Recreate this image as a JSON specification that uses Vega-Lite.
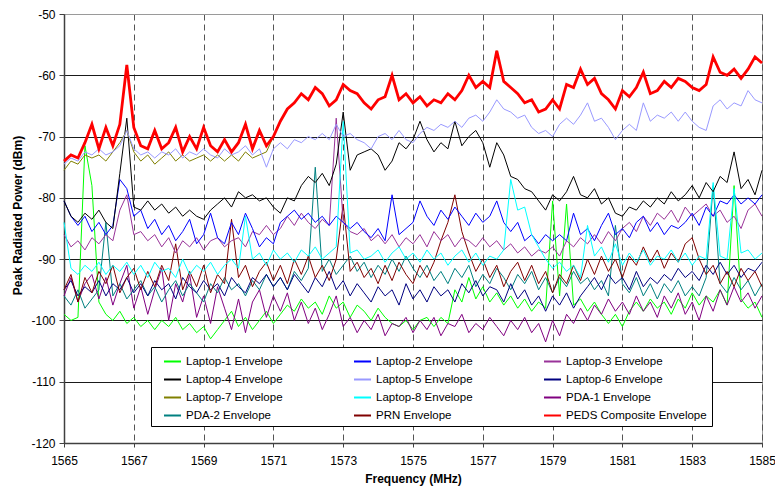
{
"$schema":"https://vega.github.io/schema/vega-lite/v6.json",
"autosize":{"type":"none"},
"padding":{"left":64,"top":14,"right":13,"bottom":46},
"width":698,"height":429,
"background":"white",
"config":{"font":"Liberation Sans","view":{"stroke":"#9a9a9a","strokeWidth":1},
"axis":{"labelFont":"Liberation Sans","labelFontSize":12,"labelColor":"#000","titleFont":"Liberation Sans","titleFontSize":12,"titleFontWeight":"bold","titleColor":"#000","domainColor":"#404040","domainWidth":1.5,"tickColor":"#404040","tickWidth":1}},
"data":{"values":[
{"f":1565.0,"a":-99,"b":-80.5,"c":-86,"d":-80.5,"e":-74.5,"g":-95,"h":-75.5,"i":-84,"j":-96,"k":-96,"l":-95,"m":-74},
{"f":1565.2,"a":-100,"b":-83,"c":-88,"d":-83,"e":-73.5,"g":-93.5,"h":-74,"i":-91.5,"j":-93,"k":-97.5,"l":-92.5,"m":-73},
{"f":1565.4,"a":-99.5,"b":-84.5,"c":-87,"d":-84,"e":-74,"g":-96,"h":-74.5,"i":-92.5,"j":-97,"k":-95,"l":-97,"m":-73.5},
{"f":1565.6,"a":-71.5,"b":-83,"c":-88.5,"d":-82.5,"e":-72.5,"g":-94.5,"h":-73,"i":-91,"j":-94,"k":-98,"l":-93,"m":-71},
{"f":1565.8,"a":-78,"b":-85.5,"c":-86.5,"d":-83.5,"e":-73,"g":-95.5,"h":-73.5,"i":-92,"j":-92.5,"k":-96.5,"l":-95.5,"m":-68},
{"f":1566.0,"a":-97,"b":-84,"c":-87.5,"d":-82,"e":-72,"g":-93.5,"h":-73,"i":-90.5,"j":-96.5,"k":-95,"l":-92,"m":-72},
{"f":1566.2,"a":-99,"b":-86,"c":-86,"d":-84,"e":-73,"g":-96,"h":-74,"i":-92.5,"j":-93,"k":-84,"l":-94,"m":-68.5},
{"f":1566.4,"a":-100,"b":-84.5,"c":-87,"d":-85,"e":-72.5,"g":-94,"h":-72.5,"i":-91,"j":-97.5,"k":-96,"l":-91,"m":-71.5},
{"f":1566.6,"a":-98.5,"b":-77,"c":-82,"d":-76,"e":-71.5,"g":-95,"h":-71,"i":-92,"j":-94,"k":-94,"l":-95.5,"m":-68},
{"f":1566.8,"a":-100.5,"b":-78.5,"c":-79.5,"d":-67,"e":-69,"g":-93,"h":-69,"i":-90.5,"j":-91,"k":-96.5,"l":-93,"m":-58.3},
{"f":1567.0,"a":-99.5,"b":-83,"c":-86,"d":-81.5,"e":-72,"g":-95.5,"h":-72.5,"i":-92.5,"j":-98,"k":-95,"l":-91.5,"m":-68.5},
{"f":1567.2,"a":-101,"b":-82,"c":-85.5,"d":-82,"e":-73,"g":-94,"h":-74,"i":-91,"j":-94.5,"k":-93.5,"l":-95,"m":-71.5},
{"f":1567.4,"a":-100,"b":-85,"c":-87,"d":-80.5,"e":-72.5,"g":-96,"h":-73,"i":-93,"j":-99,"k":-96,"l":-92,"m":-72},
{"f":1567.6,"a":-101.5,"b":-83.5,"c":-86,"d":-82,"e":-73.5,"g":-93.5,"h":-74.5,"i":-90.5,"j":-95,"k":-94.5,"l":-94.5,"m":-69},
{"f":1567.8,"a":-100,"b":-86,"c":-88,"d":-81,"e":-72.5,"g":-95,"h":-73.5,"i":-92,"j":-91.5,"k":-97,"l":-91,"m":-72},
{"f":1568.0,"a":-101,"b":-84.5,"c":-86.5,"d":-82.5,"e":-73,"g":-94,"h":-72.5,"i":-91.5,"j":-100,"k":-95,"l":-93.5,"m":-71},
{"f":1568.2,"a":-99.5,"b":-87,"c":-89,"d":-81.5,"e":-72,"g":-96.5,"h":-74,"i":-93,"j":-94,"k":-93.5,"l":-87.5,"m":-68.5},
{"f":1568.4,"a":-101.5,"b":-85.5,"c":-87,"d":-83,"e":-73.5,"g":-93,"h":-73,"i":-90,"j":-97,"k":-96,"l":-95,"m":-72.5},
{"f":1568.6,"a":-100.5,"b":-83.5,"c":-88,"d":-82,"e":-72.5,"g":-94.5,"h":-74,"i":-92.5,"j":-92.5,"k":-94,"l":-92,"m":-70},
{"f":1568.8,"a":-102,"b":-87.5,"c":-86.5,"d":-83,"e":-73,"g":-95.5,"h":-73.5,"i":-91,"j":-99.5,"k":-95.5,"l":-94.5,"m":-72},
{"f":1569.0,"a":-101,"b":-86,"c":-88.5,"d":-83.5,"e":-72,"g":-93.5,"h":-73,"i":-92,"j":-96,"k":-97,"l":-91,"m":-68.5},
{"f":1569.2,"a":-103,"b":-82.5,"c":-87,"d":-82,"e":-73,"g":-95,"h":-74,"i":-90.5,"j":-100.5,"k":-94,"l":-95.5,"m":-71.5},
{"f":1569.4,"a":-101.5,"b":-86.5,"c":-86.5,"d":-81,"e":-73.5,"g":-94,"h":-73,"i":-92.5,"j":-94.5,"k":-95.5,"l":-92.5,"m":-72.5},
{"f":1569.6,"a":-100,"b":-87.5,"c":-88,"d":-80,"e":-72,"g":-96,"h":-74,"i":-91,"j":-98,"k":-93,"l":-94,"m":-70.5},
{"f":1569.8,"a":-98.5,"b":-84,"c":-87,"d":-81.5,"e":-73,"g":-93,"h":-73,"i":-90,"j":-101.5,"k":-95,"l":-83.5,"m":-72.5},
{"f":1570.0,"a":-101,"b":-86,"c":-86.5,"d":-79,"e":-72.5,"g":-94.5,"h":-74,"i":-91.5,"j":-96.5,"k":-94,"l":-93,"m":-71},
{"f":1570.2,"a":-99.5,"b":-82.5,"c":-88,"d":-80,"e":-71.5,"g":-95.5,"h":-72.5,"i":-83,"j":-102,"k":-96,"l":-91,"m":-68},
{"f":1570.4,"a":-101.5,"b":-85,"c":-85.5,"d":-79.5,"e":-73,"g":-93,"h":-73.5,"i":-90,"j":-97,"k":-93.5,"l":-94.5,"m":-72},
{"f":1570.6,"a":-100,"b":-88,"c":-86,"d":-80.5,"e":-72,"g":-94,"h":-73,"i":-89,"j":-95,"k":-95,"l":-92,"m":-69},
{"f":1570.8,"a":-98.5,"b":-86.5,"c":-84.5,"d":-80,"e":-75,"g":-92.5,"h":-72.5,"i":-91,"j":-99.5,"k":-92.5,"l":-90.5,"m":-71.5},
{"f":1571.0,"a":-100.5,"b":-87.5,"c":-86,"d":-81.5,"e":-72,"g":-94.5,"h":-70,"i":-88.5,"j":-96,"k":-94.5,"l":-93.5,"m":-70},
{"f":1571.2,"a":-99,"b":-84,"c":-85,"d":-82.5,"e":-71,"g":-93,"h":-67.5,"i":-90,"j":-98.5,"k":-93,"l":-91,"m":-67.5},
{"f":1571.4,"a":-97.5,"b":-83,"c":-83,"d":-80,"e":-72,"g":-95,"h":-65.5,"i":-89,"j":-95.5,"k":-95,"l":-94,"m":-65.5},
{"f":1571.6,"a":-98.5,"b":-82,"c":-84.5,"d":-80.5,"e":-70.5,"g":-92.5,"h":-64.5,"i":-90.5,"j":-100,"k":-92,"l":-90,"m":-64.5},
{"f":1571.8,"a":-96.5,"b":-83.5,"c":-82.5,"d":-78,"e":-71,"g":-94,"h":-63,"i":-88.5,"j":-97,"k":-93.5,"l":-92.5,"m":-63},
{"f":1572.0,"a":-98,"b":-82.5,"c":-84,"d":-76.5,"e":-70,"g":-95.5,"h":-64,"i":-89.5,"j":-100.5,"k":-91.5,"l":-89.5,"m":-64},
{"f":1572.2,"a":-97,"b":-84,"c":-85,"d":-77.5,"e":-70.5,"g":-93,"h":-62,"i":-88,"j":-98,"k":-75,"l":-93,"m":-62},
{"f":1572.4,"a":-99,"b":-83,"c":-83.5,"d":-76,"e":-69.5,"g":-94.5,"h":-63,"i":-90,"j":-101.5,"k":-92,"l":-91,"m":-63},
{"f":1572.6,"a":-96,"b":-84.5,"c":-84.5,"d":-78,"e":-70.5,"g":-92,"h":-65,"i":-89,"j":-99,"k":-90,"l":-93.5,"m":-65},
{"f":1572.8,"a":-98,"b":-83,"c":-67,"d":-74.5,"e":-68,"g":-95,"h":-64,"i":-88,"j":-96,"k":-92.5,"l":-90,"m":-64},
{"f":1573.0,"a":-97,"b":-84,"c":-84,"d":-66,"e":-70,"g":-93.5,"h":-61.5,"i":-67.5,"j":-101,"k":-91,"l":-81,"m":-61.5},
{"f":1573.2,"a":-99.5,"b":-85,"c":-85.5,"d":-75.5,"e":-69.5,"g":-96,"h":-62.5,"i":-89,"j":-99.5,"k":-89.5,"l":-92,"m":-62.5},
{"f":1573.4,"a":-97.5,"b":-84,"c":-86,"d":-73,"e":-70.5,"g":-94,"h":-63,"i":-88.5,"j":-102,"k":-92,"l":-90.5,"m":-63},
{"f":1573.6,"a":-98.5,"b":-85.5,"c":-85,"d":-72.5,"e":-71,"g":-95.5,"h":-64.5,"i":-90,"j":-100,"k":-90.5,"l":-93,"m":-64.5},
{"f":1573.8,"a":-100,"b":-86.5,"c":-87,"d":-72,"e":-72,"g":-97,"h":-65.5,"i":-89.5,"j":-101.5,"k":-93,"l":-91.5,"m":-65.5},
{"f":1574.0,"a":-98,"b":-85,"c":-86,"d":-73,"e":-70,"g":-94.5,"h":-64,"i":-88.5,"j":-99,"k":-91,"l":-94,"m":-64},
{"f":1574.2,"a":-99.5,"b":-87,"c":-87.5,"d":-75.5,"e":-69.5,"g":-96,"h":-63.5,"i":-90.5,"j":-102.5,"k":-92.5,"l":-91,"m":-63.5},
{"f":1574.4,"a":-100.5,"b":-79.5,"c":-86,"d":-74,"e":-70.5,"g":-95,"h":-60,"i":-89,"j":-100.5,"k":-90,"l":-93.5,"m":-60},
{"f":1574.6,"a":-101,"b":-86,"c":-88,"d":-71,"e":-69,"g":-97.5,"h":-64,"i":-88,"j":-101,"k":-92,"l":-90.5,"m":-64},
{"f":1574.8,"a":-100,"b":-85,"c":-86.5,"d":-72,"e":-70.5,"g":-94,"h":-63,"i":-90,"j":-99.5,"k":-89.5,"l":-92.5,"m":-63},
{"f":1575.0,"a":-101.5,"b":-84,"c":-87.5,"d":-70.5,"e":-71,"g":-96.5,"h":-64.5,"i":-89,"j":-102,"k":-91.5,"l":-94,"m":-64.5},
{"f":1575.2,"a":-100,"b":-80.5,"c":-86,"d":-67.5,"e":-69.5,"g":-95,"h":-63.5,"i":-90.5,"j":-100,"k":-93,"l":-91,"m":-63.5},
{"f":1575.4,"a":-99.5,"b":-83,"c":-88,"d":-70.5,"e":-68.5,"g":-97,"h":-65,"i":-88.5,"j":-101.5,"k":-91,"l":-93,"m":-65},
{"f":1575.6,"a":-101,"b":-84.5,"c":-85.5,"d":-72.5,"e":-69,"g":-94.5,"h":-64,"i":-90,"j":-99.5,"k":-93.5,"l":-90.5,"m":-64},
{"f":1575.8,"a":-99.5,"b":-82,"c":-87,"d":-71,"e":-68,"g":-96,"h":-64.5,"i":-89,"j":-102.5,"k":-92,"l":-87,"m":-64.5},
{"f":1576.0,"a":-100.5,"b":-83.5,"c":-86,"d":-72,"e":-68.5,"g":-95,"h":-63,"i":-91,"j":-100.5,"k":-94,"l":-84,"m":-63},
{"f":1576.2,"a":-95,"b":-81.5,"c":-88,"d":-67.5,"e":-67.5,"g":-97,"h":-64,"i":-89.5,"j":-101,"k":-91.5,"l":-79.5,"m":-64},
{"f":1576.4,"a":-97,"b":-83,"c":-86.5,"d":-71.5,"e":-68.5,"g":-94,"h":-62.5,"i":-88.5,"j":-99,"k":-93,"l":-85.5,"m":-62.5},
{"f":1576.6,"a":-93,"b":-84.5,"c":-87,"d":-70,"e":-67,"g":-95.5,"h":-60,"i":-90.5,"j":-102,"k":-91,"l":-89,"m":-60},
{"f":1576.8,"a":-96.5,"b":-82.5,"c":-88,"d":-69,"e":-66.5,"g":-93.5,"h":-62,"i":-89,"j":-100.5,"k":-94.5,"l":-92,"m":-62},
{"f":1577.0,"a":-94.5,"b":-84,"c":-86.5,"d":-71,"e":-67.5,"g":-96,"h":-61,"i":-91,"j":-101.5,"k":-92.5,"l":-90,"m":-61},
{"f":1577.2,"a":-97,"b":-83,"c":-88,"d":-75,"e":-66,"g":-94.5,"h":-62,"i":-89.5,"j":-99.5,"k":-94,"l":-93,"m":-62},
{"f":1577.4,"a":-95.5,"b":-80.5,"c":-87,"d":-71,"e":-64,"g":-95,"h":-56,"i":-90,"j":-101,"k":-91.5,"l":-91,"m":-56},
{"f":1577.6,"a":-97.5,"b":-84,"c":-88.5,"d":-73,"e":-65.5,"g":-97,"h":-61,"i":-88.5,"j":-102.5,"k":-93,"l":-94.5,"m":-61},
{"f":1577.8,"a":-96,"b":-85.5,"c":-87.5,"d":-76.5,"e":-66,"g":-94,"h":-62,"i":-77,"j":-100,"k":-95,"l":-92,"m":-62},
{"f":1578.0,"a":-98,"b":-84,"c":-89,"d":-77,"e":-67,"g":-96.5,"h":-63,"i":-82,"j":-101.5,"k":-92.5,"l":-90.5,"m":-63},
{"f":1578.2,"a":-96.5,"b":-87,"c":-88,"d":-78.5,"e":-66.5,"g":-95,"h":-64.5,"i":-81.5,"j":-99.5,"k":-94,"l":-93.5,"m":-64.5},
{"f":1578.4,"a":-98.5,"b":-86,"c":-89.5,"d":-79,"e":-68.5,"g":-97.5,"h":-64,"i":-86,"j":-102,"k":-92,"l":-91,"m":-64},
{"f":1578.6,"a":-97,"b":-87.5,"c":-88.5,"d":-80.5,"e":-69.5,"g":-96,"h":-66,"i":-88,"j":-100.5,"k":-95,"l":-94,"m":-66},
{"f":1578.8,"a":-98,"b":-86,"c":-89,"d":-82,"e":-69,"g":-98.5,"h":-65.5,"i":-90,"j":-103.5,"k":-93,"l":-92,"m":-65.5},
{"f":1579.0,"a":-80.5,"b":-87,"c":-88,"d":-79.5,"e":-70,"g":-96,"h":-64,"i":-91.5,"j":-100,"k":-95.5,"l":-95.5,"m":-64},
{"f":1579.2,"a":-96,"b":-86,"c":-89.5,"d":-80.5,"e":-68,"g":-97.5,"h":-65.5,"i":-90.5,"j":-102.5,"k":-93,"l":-92.5,"m":-65.5},
{"f":1579.4,"a":-81,"b":-87,"c":-87,"d":-79,"e":-67,"g":-95.5,"h":-61.5,"i":-92,"j":-99,"k":-94.5,"l":-94,"m":-61.5},
{"f":1579.6,"a":-97.5,"b":-82.5,"c":-88,"d":-76.5,"e":-68,"g":-98,"h":-62,"i":-91,"j":-100.5,"k":-92,"l":-91,"m":-62},
{"f":1579.8,"a":-96.5,"b":-86,"c":-86.5,"d":-79.5,"e":-66.5,"g":-96,"h":-59,"i":-93,"j":-98,"k":-94,"l":-93.5,"m":-59},
{"f":1580.0,"a":-98.5,"b":-85,"c":-87.5,"d":-80,"e":-64.5,"g":-94.5,"h":-61.5,"i":-84.5,"j":-100,"k":-93,"l":-90,"m":-61.5},
{"f":1580.2,"a":-97,"b":-87,"c":-86,"d":-78.5,"e":-67.5,"g":-93,"h":-60.5,"i":-89.5,"j":-97.5,"k":-95,"l":-92.5,"m":-60.5},
{"f":1580.4,"a":-99,"b":-84.5,"c":-87.5,"d":-81,"e":-67,"g":-95,"h":-63,"i":-88,"j":-99,"k":-93.5,"l":-89.5,"m":-63},
{"f":1580.6,"a":-100.5,"b":-82.5,"c":-85.5,"d":-80,"e":-68.5,"g":-92.5,"h":-64,"i":-90.5,"j":-96.5,"k":-96,"l":-92,"m":-64},
{"f":1580.8,"a":-99,"b":-86,"c":-87,"d":-82.5,"e":-70.5,"g":-94,"h":-65.5,"i":-87.5,"j":-98.5,"k":-84.5,"l":-90,"m":-65.5},
{"f":1581.0,"a":-101,"b":-85,"c":-85,"d":-83,"e":-69,"g":-93,"h":-62.5,"i":-91,"j":-97,"k":-94,"l":-93,"m":-62.5},
{"f":1581.2,"a":-98.5,"b":-86.5,"c":-84,"d":-81.5,"e":-68,"g":-95,"h":-63.5,"i":-89,"j":-99,"k":-95.5,"l":-89.5,"m":-63.5},
{"f":1581.4,"a":-97,"b":-84,"c":-85.5,"d":-82,"e":-69,"g":-92,"h":-62,"i":-90.5,"j":-96,"k":-93,"l":-91,"m":-62},
{"f":1581.6,"a":-98.5,"b":-83,"c":-83,"d":-80.5,"e":-64.5,"g":-94.5,"h":-59.5,"i":-88.5,"j":-98.5,"k":-96,"l":-88,"m":-59.5},
{"f":1581.8,"a":-96.5,"b":-85.5,"c":-84.5,"d":-81.5,"e":-67.5,"g":-93,"h":-63,"i":-91,"j":-97,"k":-94,"l":-90.5,"m":-63},
{"f":1582.0,"a":-98,"b":-84,"c":-82.5,"d":-80,"e":-66.5,"g":-94,"h":-62.5,"i":-89.5,"j":-99.5,"k":-96.5,"l":-88.5,"m":-62.5},
{"f":1582.2,"a":-97,"b":-86,"c":-83.5,"d":-81,"e":-67,"g":-92.5,"h":-61,"i":-90,"j":-96,"k":-94,"l":-91.5,"m":-61},
{"f":1582.4,"a":-99,"b":-84.5,"c":-82,"d":-79,"e":-66,"g":-93.5,"h":-62,"i":-88.5,"j":-98,"k":-95.5,"l":-89,"m":-62},
{"f":1582.6,"a":-96.5,"b":-85,"c":-84,"d":-80.5,"e":-67.5,"g":-91.5,"h":-60.5,"i":-90.5,"j":-95.5,"k":-93.5,"l":-90.5,"m":-60.5},
{"f":1582.8,"a":-98,"b":-84,"c":-81.5,"d":-79.5,"e":-66,"g":-93,"h":-61,"i":-89,"j":-99,"k":-96,"l":-87.5,"m":-61},
{"f":1583.0,"a":-95.5,"b":-82.5,"c":-83,"d":-78,"e":-67.5,"g":-92,"h":-62,"i":-91,"j":-97,"k":-94.5,"l":-86.5,"m":-62},
{"f":1583.2,"a":-97.5,"b":-84.5,"c":-82,"d":-80,"e":-68.5,"g":-93.5,"h":-62.5,"i":-89.5,"j":-100,"k":-96,"l":-90,"m":-62.5},
{"f":1583.4,"a":-96,"b":-81.5,"c":-81,"d":-77.5,"e":-69,"g":-91,"h":-61.5,"i":-90,"j":-96,"k":-93,"l":-92.5,"m":-61.5},
{"f":1583.6,"a":-97,"b":-83,"c":-83,"d":-79,"e":-65,"g":-92.5,"h":-57,"i":-77.5,"j":-98.5,"k":-78,"l":-91,"m":-57},
{"f":1583.8,"a":-95,"b":-80.5,"c":-82,"d":-76.5,"e":-64,"g":-90.5,"h":-59.5,"i":-89.5,"j":-95,"k":-94,"l":-94,"m":-59.5},
{"f":1584.0,"a":-97.5,"b":-81,"c":-84,"d":-77.5,"e":-65.5,"g":-92.5,"h":-60,"i":-90,"j":-97.5,"k":-95.5,"l":-92,"m":-60},
{"f":1584.2,"a":-78,"b":-79.5,"c":-83,"d":-72.5,"e":-64.5,"g":-91,"h":-59,"i":-78.5,"j":-94.5,"k":-93,"l":-94.5,"m":-59},
{"f":1584.4,"a":-96.5,"b":-81,"c":-85,"d":-78.5,"e":-65,"g":-93,"h":-60.5,"i":-89,"j":-97,"k":-95,"l":-91.5,"m":-60.5},
{"f":1584.6,"a":-98,"b":-80,"c":-82,"d":-77,"e":-62.5,"g":-91.5,"h":-59,"i":-88.5,"j":-95.5,"k":-93.5,"l":-93.5,"m":-59},
{"f":1584.8,"a":-97,"b":-81,"c":-81,"d":-79.5,"e":-64,"g":-92,"h":-57,"i":-90,"j":-98,"k":-96,"l":-92,"m":-57},
{"f":1585.0,"a":-99.5,"b":-79.5,"c":-83,"d":-75.5,"e":-64.5,"g":-90.5,"h":-58,"i":-89,"j":-96,"k":-94,"l":-94.5,"m":-58}
]},
"transform":[{"fold":["a","j","k","g","l","c","b","i","d","h","e","m"],"as":["s","v"]}],
"encoding":{
"x":{"field":"f","type":"quantitative","scale":{"domain":[1565,1585],"nice":false,"zero":false},
"axis":{"values":[1565,1567,1569,1571,1573,1575,1577,1579,1581,1583,1585],"format":"d","title":"Frequency (MHz)","grid":true,"gridDash":[6,4],"gridColor":"#555555","gridWidth":1,"tickSize":4,"labelPadding":8,"titlePadding":7,"labelFlush":false}},
"y":{"field":"v","type":"quantitative","scale":{"domain":[-120,-50],"nice":false,"zero":false},
"axis":{"values":[-120,-110,-100,-90,-80,-70,-60,-50],"labelExpr":"toString(datum.value)","title":"Peak Radiated Power (dBm)","grid":true,"gridColor":{"condition":{"test":"datum.value == -50","value":"#9a9a9a"},"value":"#1a1a1a"},"gridWidth":1,"tickSize":5,"labelPadding":4,"titleX":-40,"titleY":201}},
"color":{"field":"s","type":"nominal",
"scale":{"domain":["a","b","c","d","e","g","h","i","j","k","l","m"],"range":["#00ff00","#0000ff","#993399","#000000","#9999ff","#000080","#808000","#00ffff","#800080","#008080","#800000","#ff0000"]},
"legend":{"title":null,"orient":"none","direction":"horizontal","legendX":87,"legendY":333,"columns":3,"symbolType":"stroke","symbolSize":289,"symbolStrokeWidth":2,"labelFont":"Liberation Sans","labelFontSize":11.5,"labelColor":"#000","strokeColor":"#000","fillColor":"#fff","padding":5,"rowPadding":3,"columnPadding":63,"symbolOffset":7,"labelOffset":4,"labelLimit":0,
"labelExpr":"{'a':'Laptop-1 Envelope','b':'Laptop-2 Envelope','c':'Laptop-3 Envelope','d':'Laptop-4 Envelope','e':'Laptop-5 Envelope','g':'Laptop-6 Envelope','h':'Laptop-7 Envelope','i':'Laptop-8 Envelope','j':'PDA-1 Envelope','k':'PDA-2 Envelope','l':'PRN Envelope','m':'PEDS Composite Envelope'}[datum.label]"}}
},
"layer":[
{"transform":[{"filter":"datum.s != 'm'"}],"mark":{"type":"line","strokeWidth":1}},
{"transform":[{"filter":"datum.s == 'm'"}],"mark":{"type":"line","strokeWidth":2.8}}
]
}
